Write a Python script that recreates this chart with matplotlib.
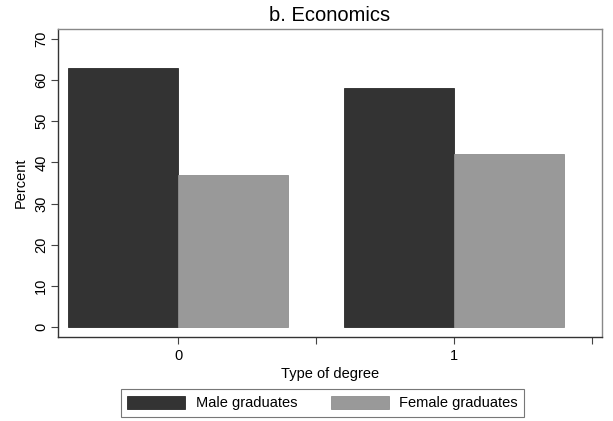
import numpy as np
import matplotlib.pyplot as plt

plt.rcParams['font.family'] = ['Liberation Sans', 'DejaVu Sans']

# data
degree_types = [0, 1]
male = [63.0, 58.0]
female = [37.0, 42.0]
labels = ['Male graduates', 'Female graduates']

fig = plt.figure(figsize=(6.13, 4.21), dpi=100)
ax = fig.add_axes([0.0946, 0.1995, 0.8874, 0.7315])

x = np.array(degree_types)
w = 0.4
ax.bar(x - w / 2, male, w, color='#333333', edgecolor='#2a2a2a', linewidth=0.6, label=labels[0])
ax.bar(x + w / 2, female, w, color='#999999', edgecolor='#8f8f8f', linewidth=0.6, label=labels[1])

ax.set_xlim(-0.435, 1.536)
ax.set_ylim(-2.4, 72.4)
ax.set_yticks(np.arange(0, 71, 10))
ax.set_yticklabels([str(v) for v in range(0, 71, 10)], rotation=90, va='center')
ax.set_xticks([0, 1])
ax.set_xticks([0.5, 1.5], minor=True)
ax.tick_params(axis='both', which='both', direction='out', length=5, width=0.8,
               color='#444444', labelsize=10.5)
ax.tick_params(axis='y', pad=2)
ax.tick_params(axis='x', which='minor', length=5)

for side in ['left', 'bottom']:
    ax.spines[side].set_color('#333333')
    ax.spines[side].set_linewidth(1.0)
for side in ['top', 'right']:
    ax.spines[side].set_color('#888888')
    ax.spines[side].set_linewidth(1.0)

ax.set_title('b. Economics', fontsize=14.5, pad=6)
ax.set_ylabel('Percent', fontsize=10.5, labelpad=5)
ax.set_xlabel('Type of degree', fontsize=10.5, labelpad=3)

leg = fig.legend(loc='center', bbox_to_anchor=(0.526, 0.043), ncol=2,
                 fontsize=10.5, frameon=True, fancybox=False, edgecolor='#555555',
                 handlelength=4.0, handleheight=1.05, columnspacing=2.3,
                 borderpad=0.45, handletextpad=0.7)
leg.get_frame().set_linewidth(0.8)

fig.savefig('out.png', dpi=100)
